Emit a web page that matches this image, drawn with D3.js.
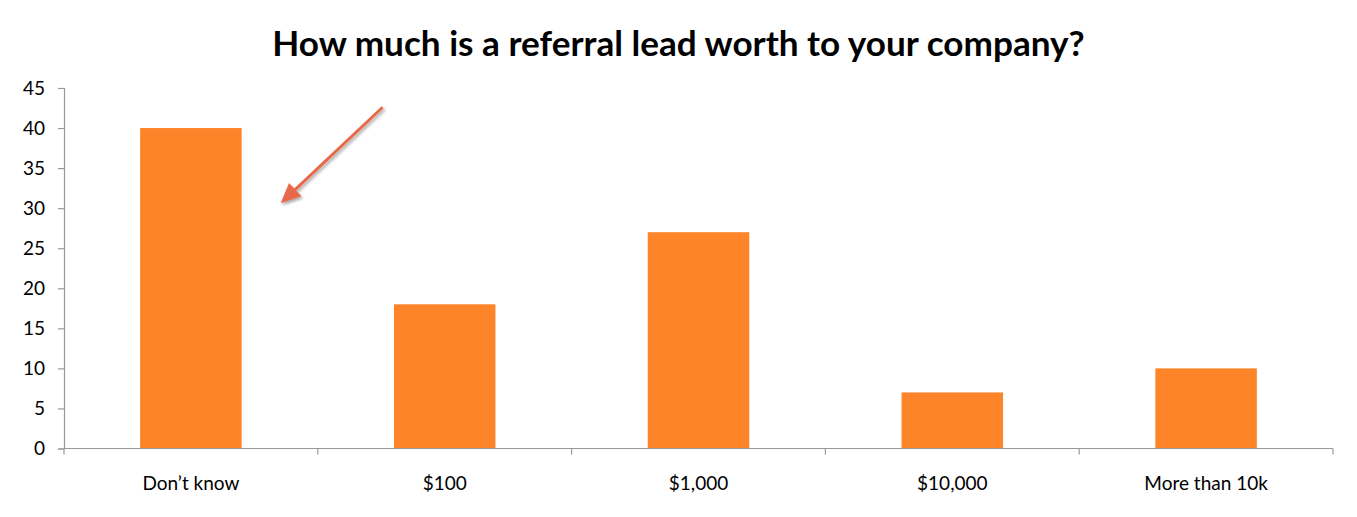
<!DOCTYPE html>
<html><head><meta charset="utf-8">
<script src="https://cdn.jsdelivr.net/npm/d3@7"></script>
<style>body{margin:0;background:#fff}svg{display:block}</style>
</head><body>
<svg id="c" width="1357" height="517"></svg>
<script>
const categories = ["Don\u2019t know", "$100", "$1,000", "$10,000", "More than 10k"];
const values = [40, 18, 27, 7, 10];
const yTicks = [0, 5, 10, 15, 20, 25, 30, 35, 40, 45];
const title = "How much is a referral lead worth to your company?";

const svg = d3.select("#c");
const font = "Lato, 'Open Sans', 'Liberation Sans', sans-serif";
const m = {left: 64, right: 1333, top: 88, bottom: 448.5};

const x = d3.scaleBand().domain(categories).range([m.left, m.right]).paddingInner(0.6).paddingOuter(0.3);
const y = d3.scaleLinear().domain([0, 45]).range([m.bottom, m.top]);

// fit label font size: "Don't know" ≈ 97px wide in reference
const probe = svg.append("text").attr("font-family", font).attr("font-size", 16).text(categories[0]);
const lblSize = 16 * 97 / probe.node().getComputedTextLength();
probe.remove();

// bars
svg.append("g").selectAll("rect").data(values).join("rect")
  .attr("x", (d, i) => x(categories[i]))
  .attr("width", x.bandwidth())
  .attr("y", d => y(d))
  .attr("height", d => y(0) - y(d))
  .attr("fill", "#FD8428");

// y axis
const ya = svg.append("g").attr("transform", `translate(${m.left},0)`)
  .call(d3.axisLeft(y).tickValues(yTicks).tickSize(6).tickPadding(13));
ya.select(".domain").attr("stroke", "#9a9a9a").attr("stroke-width", 1.2);
ya.selectAll(".tick line").attr("stroke", "#9a9a9a").attr("stroke-width", 1.2);
ya.selectAll(".tick text").attr("font-family", font).attr("font-size", lblSize).attr("fill", "#000");

// x axis with ticks at category boundaries
const xa = svg.append("g").attr("transform", `translate(0,${m.bottom})`);
xa.append("line").attr("x1", m.left).attr("x2", m.right).attr("stroke", "#9a9a9a").attr("stroke-width", 1.2);
const bounds = d3.range(categories.length + 1).map(i => m.left + i * (m.right - m.left) / categories.length);
xa.selectAll(".bt").data(bounds).join("line")
  .attr("x1", d => d).attr("x2", d => d).attr("y1", 0).attr("y2", 6)
  .attr("stroke", "#9a9a9a").attr("stroke-width", 1.2);
xa.selectAll(".lbl").data(categories).join("text")
  .attr("x", d => x(d) + x.bandwidth() / 2)
  .attr("y", 41)
  .attr("text-anchor", "middle")
  .attr("font-family", font).attr("font-size", lblSize).attr("fill", "#000")
  .text(d => d);

// title, fitted to reference width
const t = svg.append("text").attr("x", 678.5).attr("y", 56)
  .attr("text-anchor", "middle").attr("font-family", font).attr("font-weight", "bold")
  .attr("font-size", 28).attr("fill", "#000").text(title);
const w = t.node().getComputedTextLength();
t.attr("font-size", 28 * 813 / w);

// arrow annotation (anchored to scales)
const defs = svg.append("defs");
const f = defs.append("filter").attr("id", "sh").attr("x", "-20%").attr("y", "-20%").attr("width", "140%").attr("height", "140%");
f.append("feDropShadow").attr("dx", 1.5).attr("dy", 2).attr("stdDeviation", 1.5).attr("flood-color", "#000").attr("flood-opacity", 0.35);
const bx = x(categories[0]) + x.bandwidth();
const x0 = bx + 141, y0 = y(42.6);
const x1 = bx + 39, y1 = y(30.6);
const ang = Math.atan2(y1 - y0, x1 - x0);
const L = 20, W = 9;
const bxp = x1 - L * Math.cos(ang), byp = y1 - L * Math.sin(ang);
const g = svg.append("g").attr("filter", "url(#sh)");
g.append("line").attr("x1", x0).attr("y1", y0).attr("x2", bxp + 3 * Math.cos(ang)).attr("y2", byp + 3 * Math.sin(ang))
  .attr("stroke", "#E8694A").attr("stroke-width", 3);
g.append("path")
  .attr("d", `M${x1},${y1} L${bxp + W * Math.sin(ang)},${byp - W * Math.cos(ang)} L${bxp - W * Math.sin(ang)},${byp + W * Math.cos(ang)} Z`)
  .attr("fill", "#E8694A");
</script>
</body></html>
